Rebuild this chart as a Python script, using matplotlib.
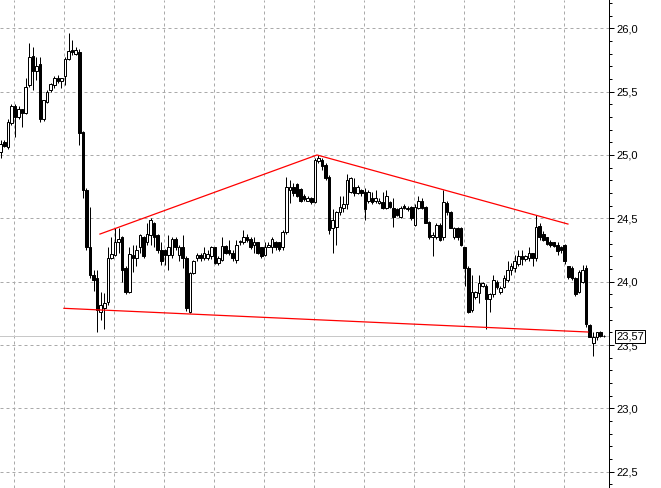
import numpy as np
import matplotlib
matplotlib.use("Agg")
import matplotlib.pyplot as plt

# daily candles (open, high, low, close)
opens = [25.02, 25.10, 25.06, 25.25, 25.39, 25.30, 25.36, 25.33, 25.55, 25.78,
         25.66, 25.72, 25.28, 25.42, 25.51, 25.55, 25.61, 25.58, 25.62, 25.76,
         25.83, 25.80, 25.81, 25.18, 24.72, 24.27, 24.05, 24.03, 23.76, 23.79,
         23.84, 24.19, 24.21, 24.31, 24.35, 24.11, 23.92, 24.21, 24.19, 24.27,
         24.35, 24.31, 24.37, 24.46, 24.37, 24.25, 24.25, 24.21, 24.21, 24.34,
         24.21, 24.27, 24.19, 23.76, 24.07, 24.19, 24.21, 24.19, 24.19, 24.20,
         24.27, 24.15, 24.17, 24.28, 24.25, 24.23, 24.17, 24.31, 24.31, 24.35,
         24.34, 24.29, 24.31, 24.27, 24.21, 24.27, 24.27, 24.31, 24.31, 24.27,
         24.39, 24.72, 24.75, 24.77, 24.73, 24.68, 24.64, 24.66, 24.63, 24.95,
         24.96, 24.92, 24.83, 24.42, 24.43, 24.55, 24.58, 24.61, 24.71, 24.75,
         24.70, 24.72, 24.71, 24.64, 24.66, 24.64, 24.62, 24.63, 24.58, 24.63,
         24.58, 24.57, 24.51, 24.60, 24.57, 24.59, 24.45, 24.58, 24.64, 24.59,
         24.47, 24.35, 24.35, 24.45, 24.35, 24.62, 24.55, 24.35, 24.42, 24.42,
         24.27, 24.11, 23.78, 23.88, 23.91, 23.97, 23.97, 23.86, 23.90, 24.00,
         23.92, 23.96, 24.01, 24.09, 24.11, 24.14, 24.20, 24.18, 24.19, 24.23,
         24.19, 24.44, 24.38, 24.35, 24.31, 24.31, 24.29, 24.27, 24.29, 24.12,
         24.11, 24.03, 23.92, 24.00, 24.11, 23.66, 23.52, 23.56, 23.60, 23.57]
highs = [25.12, 25.12, 25.28, 25.40, 25.40, 25.39, 25.36, 25.61, 25.88, 25.85,
         25.77, 25.77, 25.43, 25.51, 25.57, 25.62, 25.63, 25.61, 25.77, 25.96,
         25.91, 25.85, 25.84, 25.19, 24.74, 24.59, 24.09, 24.09, 23.92, 23.91,
         24.27, 24.35, 24.42, 24.42, 24.36, 24.12, 24.27, 24.29, 24.29, 24.38,
         24.36, 24.46, 24.50, 24.47, 24.38, 24.31, 24.26, 24.37, 24.35, 24.35,
         24.29, 24.37, 24.20, 24.08, 24.17, 24.23, 24.23, 24.27, 24.25, 24.28,
         24.27, 24.20, 24.35, 24.29, 24.33, 24.25, 24.33, 24.33, 24.41, 24.38,
         24.35, 24.35, 24.31, 24.27, 24.31, 24.31, 24.35, 24.32, 24.31, 24.41,
         24.83, 24.80, 24.78, 24.78, 24.74, 24.69, 24.68, 24.67, 24.98, 25.00,
         24.98, 24.94, 24.84, 24.57, 24.56, 24.68, 24.68, 24.85, 24.83, 24.82,
         24.76, 24.73, 24.74, 24.72, 24.71, 24.72, 24.66, 24.71, 24.72, 24.64,
         24.66, 24.58, 24.60, 24.61, 24.60, 24.60, 24.61, 24.68, 24.66, 24.60,
         24.48, 24.39, 24.46, 24.46, 24.72, 24.64, 24.56, 24.43, 24.43, 24.43,
         24.27, 24.12, 24.05, 23.93, 24.05, 24.00, 23.98, 23.91, 24.05, 24.01,
         23.97, 24.05, 24.16, 24.15, 24.21, 24.25, 24.25, 24.21, 24.27, 24.23,
         24.53, 24.46, 24.40, 24.35, 24.33, 24.31, 24.31, 24.28, 24.30, 24.12,
         24.12, 24.04, 24.09, 24.13, 24.13, 23.67, 23.60, 23.60, 23.61, 23.58]
lows = [24.98, 25.06, 25.05, 25.24, 25.14, 25.28, 25.22, 25.32, 25.54, 25.51,
        25.59, 25.26, 25.27, 25.41, 25.50, 25.53, 25.57, 25.53, 25.55, 25.75,
        25.79, 25.79, 25.08, 24.66, 24.25, 24.03, 23.93, 23.60, 23.70, 23.63,
        23.82, 24.18, 24.20, 24.23, 24.00, 23.90, 23.91, 24.08, 24.12, 24.23,
        24.19, 24.29, 24.29, 24.27, 24.23, 24.13, 24.13, 24.09, 24.19, 24.25,
        24.16, 24.11, 23.77, 23.75, 24.06, 24.16, 24.16, 24.17, 24.17, 24.18,
        24.14, 24.13, 24.16, 24.22, 24.21, 24.16, 24.15, 24.29, 24.30, 24.31,
        24.26, 24.23, 24.22, 24.19, 24.20, 24.27, 24.23, 24.25, 24.24, 24.25,
        24.38, 24.62, 24.68, 24.67, 24.63, 24.64, 24.64, 24.61, 24.62, 24.94,
        24.88, 24.80, 24.38, 24.23, 24.29, 24.53, 24.55, 24.57, 24.70, 24.68,
        24.69, 24.68, 24.49, 24.62, 24.61, 24.62, 24.61, 24.57, 24.57, 24.58,
        24.43, 24.52, 24.50, 24.57, 24.56, 24.49, 24.44, 24.57, 24.57, 24.46,
        24.34, 24.20, 24.34, 24.32, 24.33, 24.53, 24.42, 24.34, 24.33, 24.28,
        23.97, 23.75, 23.76, 23.86, 23.83, 23.96, 23.63, 23.76, 23.88, 23.94,
        23.90, 23.95, 24.00, 24.05, 24.08, 24.12, 24.13, 24.16, 24.16, 24.12,
        24.16, 24.33, 24.32, 24.29, 24.27, 24.27, 24.21, 24.23, 24.14, 24.02,
        24.01, 23.89, 23.91, 23.99, 23.64, 23.56, 23.41, 23.54, 23.56, 23.56]
closes = [25.09, 25.07, 25.26, 25.39, 25.30, 25.36, 25.33, 25.54, 25.77, 25.66,
          25.70, 25.28, 25.43, 25.50, 25.56, 25.61, 25.58, 25.61, 25.76, 25.82,
          25.81, 25.83, 25.17, 24.72, 24.27, 24.05, 24.01, 23.78, 23.82, 23.83,
          24.19, 24.22, 24.31, 24.34, 24.09, 23.92, 24.22, 24.19, 24.25, 24.37,
          24.20, 24.38, 24.49, 24.35, 24.25, 24.16, 24.21, 24.27, 24.34, 24.27,
          24.27, 24.19, 23.79, 24.07, 24.16, 24.21, 24.19, 24.23, 24.22, 24.27,
          24.15, 24.19, 24.28, 24.23, 24.23, 24.19, 24.29, 24.32, 24.35, 24.33,
          24.27, 24.31, 24.23, 24.20, 24.27, 24.29, 24.34, 24.27, 24.26, 24.39,
          24.75, 24.75, 24.70, 24.68, 24.64, 24.65, 24.66, 24.63, 24.96, 24.98,
          24.91, 24.82, 24.41, 24.49, 24.55, 24.59, 24.61, 24.80, 24.82, 24.70,
          24.75, 24.70, 24.57, 24.71, 24.63, 24.66, 24.64, 24.58, 24.68, 24.59,
          24.51, 24.53, 24.58, 24.58, 24.58, 24.50, 24.59, 24.64, 24.58, 24.46,
          24.35, 24.37, 24.45, 24.33, 24.63, 24.55, 24.42, 24.42, 24.35, 24.29,
          24.11, 23.76, 23.92, 23.92, 23.99, 23.99, 23.86, 23.90, 24.01, 23.96,
          23.95, 24.03, 24.09, 24.12, 24.16, 24.20, 24.18, 24.20, 24.23, 24.19,
          24.43, 24.35, 24.33, 24.30, 24.29, 24.28, 24.24, 24.25, 24.16, 24.04,
          24.03, 23.90, 24.08, 24.09, 23.67, 23.56, 23.56, 23.60, 23.57, 23.57]

last_price = 23.57

# hand drawn trend lines (bar index, price)
upper_x = [27.8, 88.6, 158.9]
upper_y = [24.376, 25.00, 24.455]
lower_x = [17.7, 164.5]
lower_y = [23.79, 23.603]

o = np.array(opens)
h = np.array(highs)
l = np.array(lows)
c = np.array(closes)
x = np.arange(len(o))

plt.rcParams['font.family'] = ['Liberation Sans', 'DejaVu Sans']

fig = plt.figure(figsize=(6.61, 4.88), dpi=100)
ax = fig.add_axes([0, 0, 609 / 661, 1])

px = 0.72  # one pixel in points

# wicks
ax.vlines(x, l, h, color='black', lw=px, zorder=2)

# bodies
up = c >= o
bottom = np.minimum(o, c)
height = np.maximum(np.abs(c - o), 0.002)
ax.bar(x[up], height[up], bottom=bottom[up], width=0.72,
       facecolor='white', edgecolor='black', lw=px, zorder=3)
ax.bar(x[~up], height[~up], bottom=bottom[~up], width=0.72,
       facecolor='black', edgecolor='black', lw=px, zorder=3)

# last price line
ax.axhline(last_price, color='#c8c8c8', lw=px, zorder=1)

# trend lines
ax.plot(upper_x, upper_y, color='#ff0000', lw=0.9, zorder=4)
ax.plot(lower_x, lower_y, color='#ff0000', lw=0.9, zorder=4)

ax.set_xlim(-0.2, 170.4)
ax.set_ylim(22.372, 26.223)

# axes styling
for side in ['left', 'top', 'bottom']:
    ax.spines[side].set_visible(False)
ax.spines['right'].set_linewidth(px)

ax.yaxis.tick_right()
ax.set_yticks(np.arange(22.5, 26.01, 0.5))
ax.set_yticks(np.arange(22.4, 26.21, 0.1), minor=True)
ax.set_yticklabels([f"{v:.1f}".replace('.', ',') for v in np.arange(22.5, 26.01, 0.5)])
ax.tick_params(axis='y', which='major', direction='out', length=3.6, width=px,
               labelsize=8, pad=2)
ax.tick_params(axis='y', which='minor', direction='out', length=2.0, width=px)

ax.set_xticks(np.arange(3.73, 170, 14))
ax.tick_params(axis='x', length=0, labelbottom=False)

ax.grid(True, which='major', color='#aaaaaa', lw=px, linestyle=(0, (3, 3)))
ax.set_axisbelow(True)

ax.annotate(f"{last_price:.2f}".replace('.', ','), xy=(1, last_price),
            xycoords=('axes fraction', 'data'), xytext=(7, 0),
            textcoords='offset pixels', va='center', ha='left', fontsize=8,
            bbox=dict(boxstyle='square,pad=0.12', fc='white', ec='black', lw=px),
            annotation_clip=False, zorder=10)

fig.savefig('out.png', dpi=100)
